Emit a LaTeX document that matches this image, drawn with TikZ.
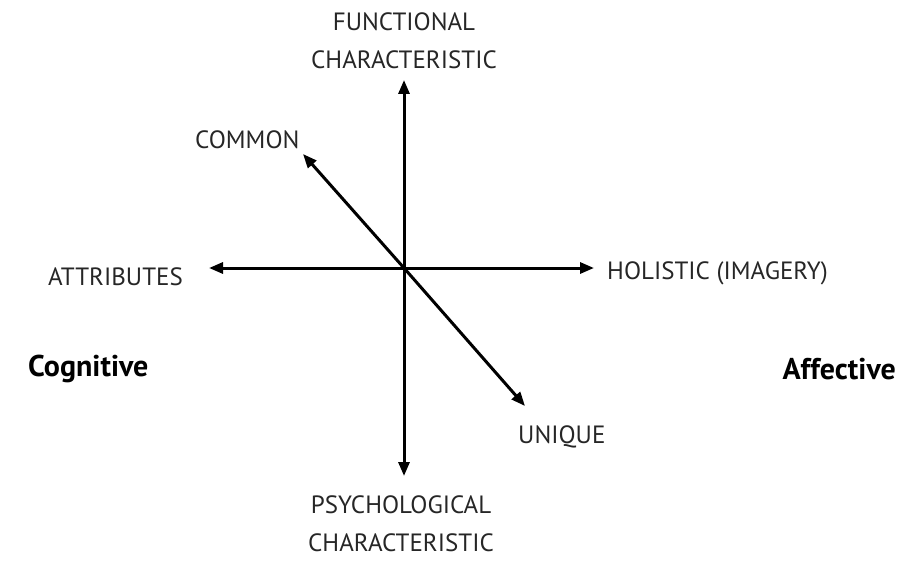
\documentclass[tikz,border=0pt]{standalone}
\usepackage{fontspec}
\setmainfont{PT Sans}
\usetikzlibrary{arrows.meta}
\begin{document}
\begin{tikzpicture}[x=1pt,y=-1pt,
  axis/.style={line width=3pt,-{Triangle[length=14pt,width=11pt]}},
  lbl/.style={font=\fontsize{25}{38}\selectfont,text=black!85,inner sep=0pt,align=center},
  side/.style={font=\fontsize{30}{34}\selectfont\bfseries,inner sep=0pt}]
\useasboundingbox (0,0) rectangle (899,572);
\coordinate (o) at (404,268);
\coordinate (top) at (404,80);
\coordinate (bot) at (404,476);
\coordinate (lft) at (209,268);
\coordinate (rgt) at (594,268);
\coordinate (ul) at (303,154);
\coordinate (lr) at (525,406);
\draw[axis] (o) -- (top);
\draw[axis] (o) -- (bot);
\draw[axis] (o) -- (lft);
\draw[axis] (o) -- (rgt);
\draw[axis] (o) -- (ul);
\draw[axis] (o) -- (lr);
\node[lbl] (fc) at (404,41) {FUNCTIONAL\\CHARACTERISTIC};
\node[lbl] (pc) at (401,524) {PSYCHOLOGICAL\\CHARACTERISTIC};
\node[lbl,anchor=west] (cm) at (195,140) {COMMON};
\node[lbl,anchor=east] (at) at (183,277) {ATTRIBUTES};
\node[lbl,anchor=west] (ho) at (607,273) {HOLISTIC (IMAGERY)};
\node[lbl,anchor=west] (un) at (518,437) {UNIQUE};
\node[side,anchor=west] (cg) at (28,369) {Cognitive};
\node[side,anchor=east] (af) at (896,369) {Affective};
\end{tikzpicture}
\end{document}
